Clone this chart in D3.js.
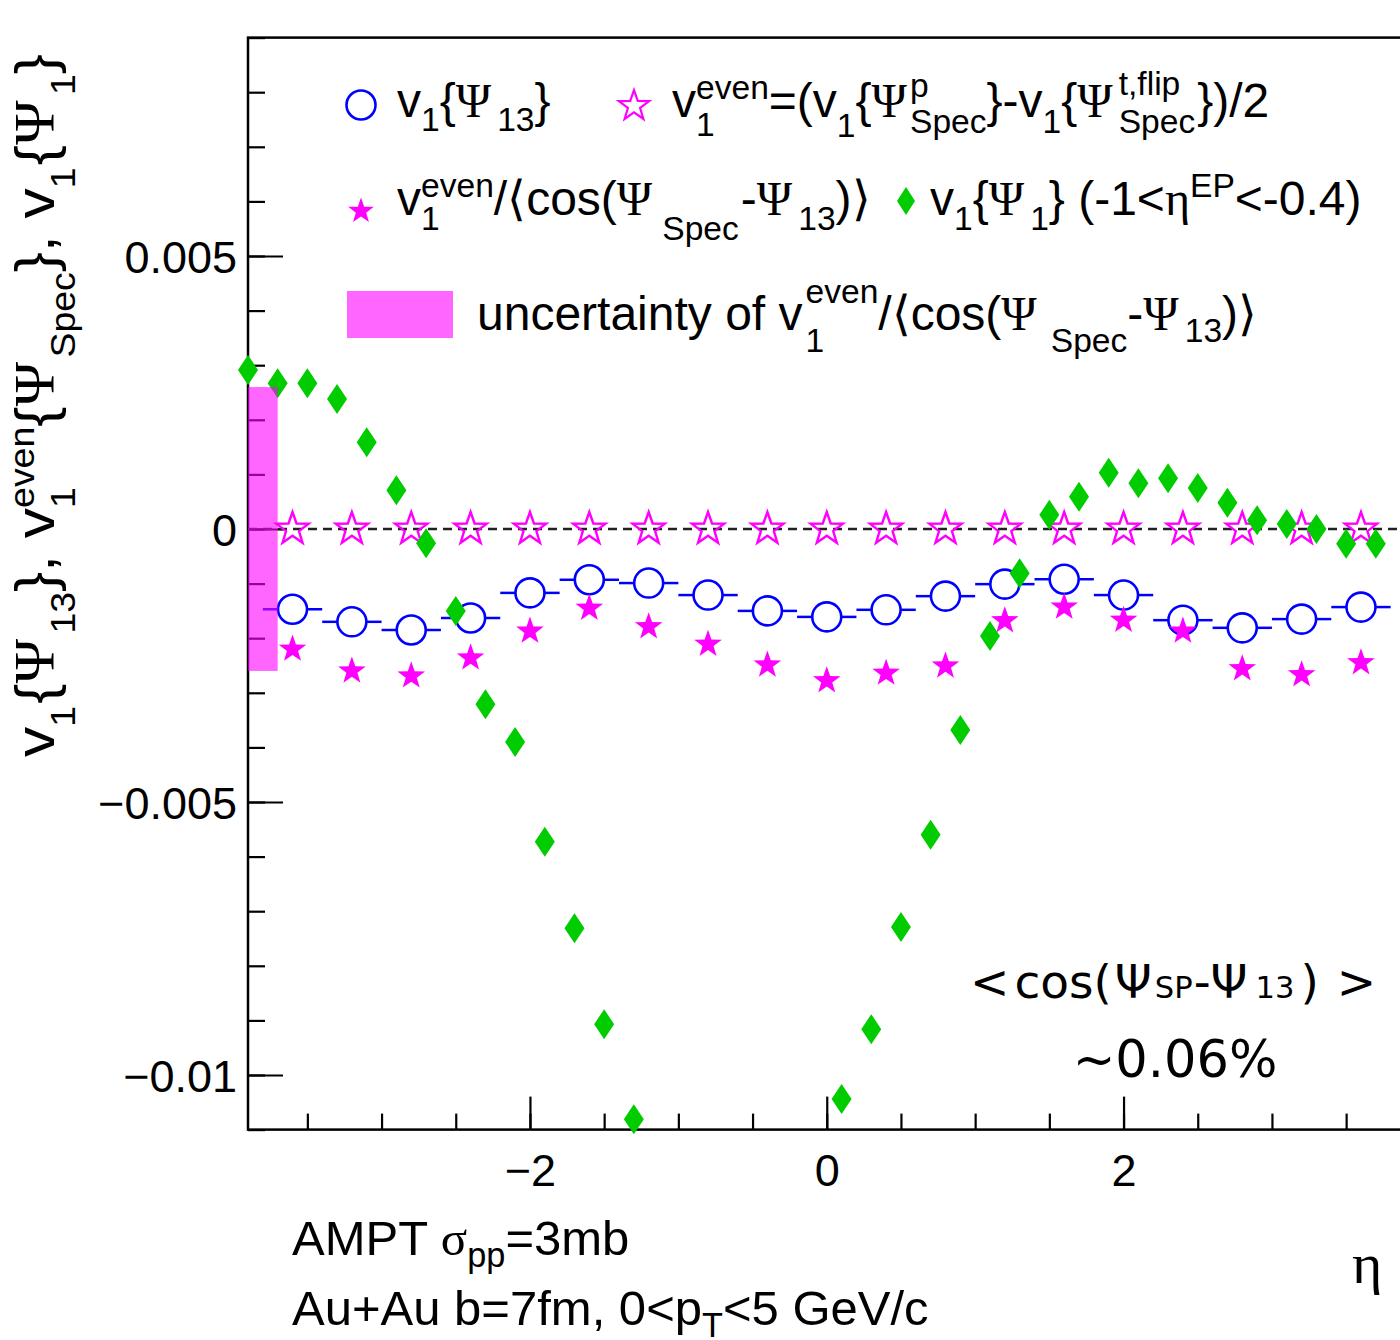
<!DOCTYPE html>
<html><head><meta charset="utf-8">
<script src="https://cdn.jsdelivr.net/npm/d3@7"></script>
<style>
html,body{margin:0;padding:0;background:#fff;}
svg{display:block;}
text{white-space:pre;}
</style></head><body>
<svg id="c" width="1400" height="1340"></svg>
<script>
// ---------------- data ----------------
const etaBins = [-3.6,-3.2,-2.8,-2.4,-2.0,-1.6,-1.2,-0.8,-0.4,0,0.4,0.8,1.2,1.6,2.0,2.4,2.8,3.2,3.6];
const binHalfWidth = 0.2;
const v1Psi13 = [-0.00147,-0.00170,-0.00185,-0.00163,-0.00117,-0.00093,-0.00099,-0.00121,-0.00150,-0.00161,-0.00148,-0.00123,-0.00101,-0.00092,-0.00121,-0.00167,-0.00181,-0.00165,-0.00143];
const v1Even = [0,0,0,0,0,0,0,0,0,0,0,0,0,0,0,0,0,0,0];
const v1EvenCorr = [-0.00220,-0.00260,-0.00269,-0.00236,-0.00187,-0.00145,-0.00179,-0.00211,-0.00249,-0.00278,-0.00264,-0.00251,-0.00168,-0.00143,-0.00167,-0.00187,-0.00256,-0.00267,-0.00245];
const etaEP = [-3.9,-3.7,-3.5,-3.3,-3.1,-2.9,-2.7,-2.5,-2.3,-2.1,-1.9,-1.7,-1.5,-1.3,
               0.1,0.3,0.5,0.7,0.9,1.1,1.3,1.5,1.7,1.9,2.1,2.3,2.5,2.7,2.9,3.1,3.3,3.5,3.7];
const v1Psi1 = [0.00291,0.00267,0.00267,0.00238,0.00159,0.00071,-0.00026,-0.00150,-0.00321,-0.00390,-0.00573,-0.00731,-0.00907,-0.01081,
                -0.01044,-0.00916,-0.00729,-0.00560,-0.00368,-0.00196,-0.00081,0.00026,0.00059,0.00103,0.00084,0.00093,0.00075,0.00048,0.00016,0.00009,0.00000,-0.00027,-0.00027];
const uncEta = [-3.9,-3.7];
const uncRange = [-0.0026,0.0026];
const xMajor = [-2,0,2];
const xLabels = ["\u22122","0","2"];
const yMajor = [-0.01,-0.005,0,0.005];
const yLabels = ["\u22120.01","\u22120.005","0","0.005"];

// ---------------- setup ----------------
const SANS = "'Liberation Sans', Arial, Helvetica, sans-serif";
const SERIF = "'Liberation Serif', 'Times New Roman', serif";
const DJV = "'DejaVu Sans', sans-serif";
const BLUE = "#0000ff", MAG = "#ff00ff", GREEN = "#00cc00";
const svg = d3.select("#c");
const x = d3.scaleLinear().domain([-3.9,3.9]).range([248,1405.5]);
const y = d3.scaleLinear().domain([-0.011,0.009]).range([1129.6,37.6]);

function starPath(R, r){
  const p=[];
  for(let i=0;i<10;i++){
    const a = -Math.PI/2 + i*Math.PI/5;
    const rr = i%2===0 ? R : r;
    p.push([rr*Math.cos(a), rr*Math.sin(a)]);
  }
  return "M"+p.map(d=>d[0].toFixed(2)+","+d[1].toFixed(2)).join("L")+"Z";
}
function diamondPath(w,h){ return `M0,${-h/2}L${w/2},0L0,${h/2}L${-w/2},0Z`; }

// ---------------- axes ----------------
const ax = svg.append("g");
ax.append("g").attr("transform",`translate(${x(-3.9)},0)`)
  .call(d3.axisLeft(y).ticks(20).tickSize(-17).tickFormat(""))
  .call(g=>g.select(".domain").remove())
  .selectAll("line").attr("stroke","#000").attr("stroke-width",2.2);
ax.append("g").attr("transform",`translate(0,${y(-0.011)})`)
  .call(d3.axisBottom(x).tickValues(d3.range(-3.5,3.51,0.5)).tickSize(-16).tickFormat(""))
  .call(g=>g.select(".domain").remove())
  .selectAll("line").attr("stroke","#000").attr("stroke-width",2.2);
ax.append("g").attr("transform",`translate(${x(-3.9)},0)`)
  .call(d3.axisLeft(y).tickValues(yMajor).tickSize(-35).tickPadding(11).tickFormat((d,i)=>yLabels[i]))
  .call(g=>g.select(".domain").remove())
  .call(g=>g.selectAll("line").attr("stroke","#000").attr("stroke-width",2.2))
  .call(g=>g.selectAll("text").attr("font-family",SANS).attr("font-size",45).attr("fill","#000").attr("dy","0.36em"));
ax.append("g").attr("transform",`translate(0,${y(-0.011)})`)
  .call(d3.axisBottom(x).tickValues(xMajor).tickSize(-33).tickPadding(14).tickFormat((d,i)=>xLabels[i]))
  .call(g=>g.select(".domain").remove())
  .call(g=>g.selectAll("line").attr("stroke","#000").attr("stroke-width",2.2))
  .call(g=>g.selectAll("text").attr("font-family",SANS).attr("font-size",45).attr("fill","#000").attr("dy","0.95em"));
svg.append("rect").attr("x",x(-3.9)).attr("y",y(0.009)).attr("width",x(3.9)-x(-3.9)).attr("height",y(-0.011)-y(0.009))
  .attr("fill","none").attr("stroke","#000").attr("stroke-width",2.5);

svg.append("line").attr("x1",x(-3.9)).attr("x2",x(3.9)).attr("y1",y(0)).attr("y2",y(0))
  .attr("stroke","#222").attr("stroke-width",2.5).attr("stroke-dasharray","9,6");

// ---------------- data marks ----------------
const CR = 14.5;
const circ = svg.append("g");
etaBins.forEach((e,i)=>{
  const cx = x(e), cy = y(v1Psi13[i]);
  circ.append("line").attr("x1",x(e-binHalfWidth)).attr("x2",cx-CR).attr("y1",cy).attr("y2",cy).attr("stroke",BLUE).attr("stroke-width",2.5);
  circ.append("line").attr("x1",cx+CR).attr("x2",x(e+binHalfWidth)).attr("y1",cy).attr("y2",cy).attr("stroke",BLUE).attr("stroke-width",2.5);
});
circ.selectAll("circle").data(etaBins).join("circle")
  .attr("cx",d=>x(d)).attr("cy",(d,i)=>y(v1Psi13[i])).attr("r",CR)
  .attr("fill","none").attr("stroke",BLUE).attr("stroke-width",2.6);

svg.append("g").selectAll("path").data(etaBins).join("path")
  .attr("d",starPath(17,6.8)).attr("transform",(d,i)=>`translate(${x(d)},${y(v1Even[i])})`)
  .attr("fill","none").attr("stroke",MAG).attr("stroke-width",2.4);

svg.append("g").selectAll("path").data(etaBins).join("path")
  .attr("d",starPath(14.5,5.8)).attr("transform",(d,i)=>`translate(${x(d)},${y(v1EvenCorr[i])})`)
  .attr("fill",MAG);

svg.append("g").selectAll("path").data(etaEP).join("path")
  .attr("d",diamondPath(20,30)).attr("transform",(d,i)=>`translate(${x(d)},${y(v1Psi1[i])})`)
  .attr("fill",GREEN);

svg.append("rect").attr("x",x(uncEta[0])).attr("width",x(uncEta[1])-x(uncEta[0]))
  .attr("y",y(uncRange[1])).attr("height",y(uncRange[0])-y(uncRange[1]))
  .attr("fill",MAG).attr("fill-opacity",0.6);

// ---------------- rich text helper ----------------
function rich(g, x0, y0, size, segs, fam, subk){
  let cx = x0, lastStart = x0, lastEnd = x0;
  for(const s of segs){
    const fs = size*(s.k ? (subk||s.k) : 1);
    const sx = (s.stack ? lastStart : cx) + (s.dx||0);
    const t = g.append("text").attr("x",sx).attr("y",y0+(s.dy||0))
      .attr("font-family",s.f||fam||SANS).attr("font-size",fs).attr("fill","#000").text(s.t);
    const w = t.node().getComputedTextLength();
    if(s.stack){ cx = Math.max(lastEnd, sx+w); }
    else { lastStart = sx; lastEnd = sx+w; cx = lastEnd; }
  }
  return cx - x0;
}
const sub = (t,dy,o={})=>Object.assign({t,k:0.7,dy},o);
const sup = (t,dy,o={})=>Object.assign({t,k:0.7,dy,stack:true},o);
const PSI = {t:"\u03A8", f:SERIF};

// ---------------- legend ----------------
const lg = svg.append("g");
lg.append("circle").attr("cx",361).attr("cy",105).attr("r",CR).attr("fill","none").attr("stroke",BLUE).attr("stroke-width",2.6);
lg.append("path").attr("d",starPath(16,6.4)).attr("transform","translate(634,106)").attr("fill","none").attr("stroke",MAG).attr("stroke-width",2.2);
lg.append("path").attr("d",starPath(13.5,5.4)).attr("transform","translate(361,211)").attr("fill",MAG);
lg.append("path").attr("d",diamondPath(18,28)).attr("transform","translate(906,201)").attr("fill",GREEN);
lg.append("rect").attr("x",347).attr("y",291).attr("width",106).attr("height",47).attr("fill",MAG).attr("fill-opacity",0.6);

rich(lg,397,117,48,[{t:"v"},sub("1",14),{t:"{"},PSI,sub("13",14,{dx:6}),{t:"}"}]);
rich(lg,672,117,48,[{t:"v"},sub("1",19),sup("even",-18),{t:"=(v"},sub("1",20),{t:"{"},PSI,sub("Spec",16,{dx:3}),sup("p",-20),
  {t:"}-v"},sub("1",16),{t:"{"},PSI,sub("Spec",16,{dx:6}),sup("t,flip",-22),{t:"})/2",dx:2}]);
rich(lg,397,215,48,[{t:"v"},sub("1",15),sup("even",-18),{t:"/\u27E8cos("},PSI,sub("Spec",25,{dx:10}),{t:"-",dx:2},PSI,sub("13",15,{dx:6}),{t:")\u27E9"}]);
rich(lg,930,215,48,[{t:"v"},sub("1",15),{t:"{"},PSI,sub("1",15,{dx:6}),{t:"} (-1<"},{t:"\u03B7",f:SERIF},{t:"EP",k:0.7,dy:-18},{t:"<-0.4)"}]);
rich(lg,477,330,48,[{t:"uncertainty of v"},sub("1",22,{dx:3}),sup("even",-27),{t:"/\u27E8cos("},PSI,sub("Spec",22,{dx:14}),{t:"-"},PSI,sub("13",12,{dx:6}),{t:")\u27E9"}]);

// ---------------- y title ----------------
const yt = svg.append("g");
const W = rich(yt,0,0,56,[{t:"v"},sub("1",21),{t:"{",dx:2},PSI,sub("13",21,{dx:5}),{t:"}, v"},sub("1",21),sup("even",-20),
  {t:"{"},PSI,sub("Spec",21,{dx:4}),{t:"}, v"},sub("1",21),{t:"{",dx:2},PSI,sub("1",21,{dx:5}),{t:"}"}], SANS, 0.62);
const titleLen = 703;
yt.attr("transform",`translate(54,${54+titleLen}) rotate(-90) scale(${titleLen/W},1)`);

// ---------------- annotations ----------------
const an = svg.append("g");
rich(an,970,998,47,[{t:"<"},{t:"cos(",dx:5},{t:"\u03A8",dx:3},{t:"SP",k:0.65,dx:3},{t:"-\u03A8",dx:1},{t:"13",k:0.65,dx:8},{t:")",dx:6},{t:">",dx:18}],DJV);
an.append("text").attr("x",1175).attr("y",1077).attr("text-anchor","middle").attr("font-family",DJV)
  .attr("font-size",51).text("~0.06%");
rich(an,292,1255,49,[{t:"AMPT "},{t:"\u03C3",f:SERIF},sub("pp",12),{t:"=3mb"}]);
rich(an,292,1325,49,[{t:"Au+Au b=7fm, 0<p"},sub("T",12),{t:"<5 GeV/c"}]);
an.append("text").attr("x",1352).attr("y",1283).attr("font-family",SERIF).attr("font-size",58).text("\u03B7");
</script>
</body></html>
